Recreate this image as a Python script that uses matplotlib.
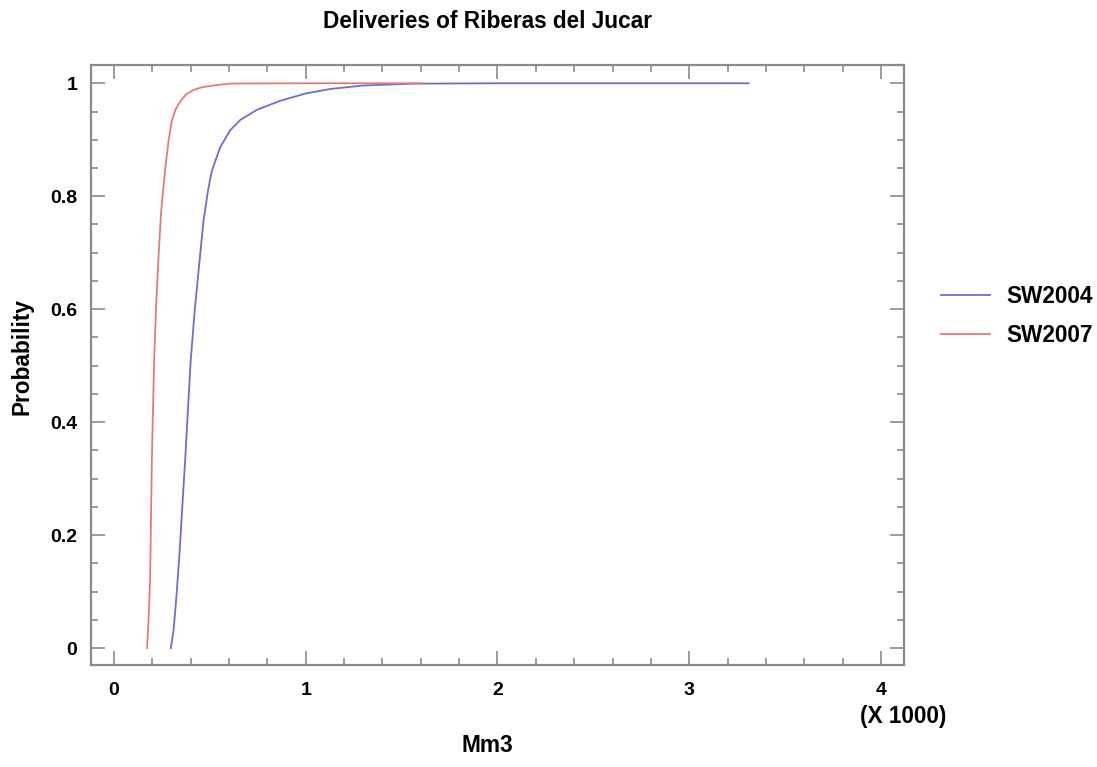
import matplotlib
matplotlib.use("Agg")
import matplotlib.pyplot as plt
from matplotlib.ticker import MultipleLocator

plt.rcParams["font.family"] = ["Liberation Sans", "DejaVu Sans"]

# -----------------------------------------------------------------------------
# Data (Mm3 in thousands, cumulative probability)
# -----------------------------------------------------------------------------
sw2004_x = [0.296, 0.31, 0.325, 0.34, 0.355, 0.371, 0.385, 0.40, 0.42, 0.44,
            0.466, 0.49, 0.51, 0.554, 0.606, 0.658, 0.745, 0.867, 1.0, 1.13,
            1.30, 1.56, 2.0, 3.31]
sw2004_y = [0.0, 0.03, 0.09, 0.16, 0.245, 0.333, 0.42, 0.51, 0.595, 0.665,
            0.755, 0.81, 0.845, 0.887, 0.917, 0.935, 0.953, 0.969, 0.982, 0.990,
            0.996, 0.9993, 1.0, 1.0]

sw2007_x = [0.172, 0.18, 0.188, 0.197, 0.209, 0.22, 0.231, 0.245, 0.266,
            0.285, 0.301, 0.32, 0.345, 0.375, 0.413, 0.46, 0.517, 0.606,
            1.0, 1.60]
sw2007_y = [0.0, 0.05, 0.12, 0.33, 0.51, 0.61, 0.687, 0.77, 0.846,
            0.90, 0.933, 0.953, 0.968, 0.98, 0.988, 0.993, 0.996, 0.9995,
            1.0, 1.0]

series_labels = ["SW2004", "SW2007"]

# -----------------------------------------------------------------------------
# Figure
# -----------------------------------------------------------------------------
LABEL_FS = 16.3
TICK_FS = 14

fig = plt.figure(figsize=(10.97, 7.67), dpi=100)
ax = fig.add_axes([0.083, 0.133, 0.741, 0.782])

ax.plot(sw2004_x, sw2004_y, color="#6e6ecc", linewidth=1.3, label=series_labels[0])
ax.plot(sw2007_x, sw2007_y, color="#e37a7a", linewidth=1.3, label=series_labels[1])

ax.set_xlim(-0.12, 4.12)
ax.set_ylim(-0.03, 1.032)
ax.xaxis.set_major_locator(MultipleLocator(1))
ax.xaxis.set_minor_locator(MultipleLocator(0.2))
ax.yaxis.set_major_locator(MultipleLocator(0.2))
ax.yaxis.set_minor_locator(MultipleLocator(0.05))
ax.set_yticklabels([f"{v:g}" for v in ax.get_yticks()])

for s in ax.spines.values():
    s.set_color("#8a8a8a")
    s.set_linewidth(1.6)

ax.tick_params(which="both", direction="in", top=True, right=True,
               color="#8a8a8a", width=1.2)
ax.tick_params(which="major", length=10)
ax.tick_params(which="minor", length=5)
ax.tick_params(axis="x", which="major", pad=12.5, labelsize=TICK_FS)
ax.tick_params(axis="y", which="major", pad=10, labelsize=TICK_FS)
for lbl in ax.get_xticklabels() + ax.get_yticklabels():
    lbl.set_fontweight("bold")

fig.text(0.444, 1 - 22 / 767, "Deliveries of Riberas del Jucar", fontsize=LABEL_FS,
         fontweight="bold", ha="center", va="center")
fig.text(22 / 1097, 1 - 357 / 767, "Probability", fontsize=LABEL_FS,
         fontweight="bold", ha="center", va="center", rotation=90)
fig.text(0.444, 1 - 745 / 767, "Mm3", fontsize=LABEL_FS, fontweight="bold",
         ha="center", va="center")
fig.text(0.823, 1 - 717 / 767, "(X 1000)", fontsize=LABEL_FS, fontweight="bold",
         ha="center", va="center")

ax.legend(loc="center left", bbox_to_anchor=(1.02, 0.582), frameon=False,
          prop={"weight": "bold", "size": LABEL_FS}, handlelength=2.2,
          handletextpad=0.7, labelspacing=0.7)

fig.savefig("out.png", dpi=100)
